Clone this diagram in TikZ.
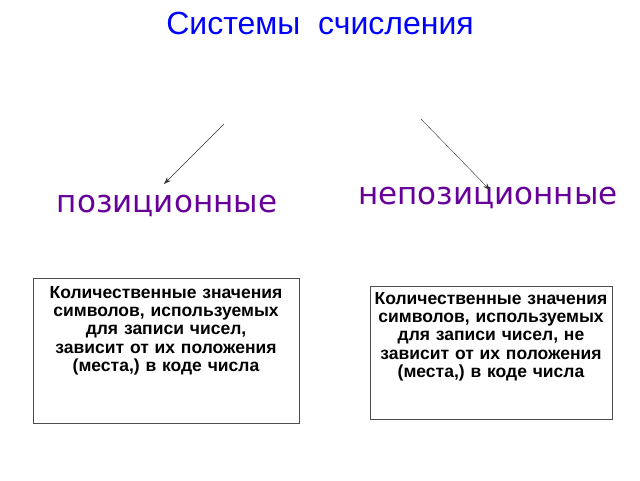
\documentclass[tikz,border=0pt]{standalone}
\usepackage{fontspec}
\usetikzlibrary{arrows.meta}
\setmainfont{Liberation Sans}
\newfontfamily\dejavu{DejaVu Sans}
\begin{document}
\begin{tikzpicture}[x=1pt,y=-1pt,
  boxtext/.style={align=center, font=\bfseries\fontsize{17.5}{18.3}\selectfont, inner sep=0pt},
  kind/.style={text=violet!80!blue, font=\dejavu\fontsize{31}{34}\selectfont},
  conn/.style={draw=black!80, -{Stealth[length=7pt,width=5pt]}, thin}]
\useasboundingbox (0,0) rectangle (640,480);
\node[text=blue, font=\fontsize{32}{36}\selectfont] (title) at (320,23) {Системы\ \ счисления};
\node[kind] (pos) at (167,206) {позиционные};
\node[kind] (npos) at (488,198) {непозиционные};
\coordinate (a1) at (224,124);
\coordinate (a2) at (421,119);
\draw[conn] (a1) -- (164,184);
\draw[conn] (a2) -- (490,190);
\draw[draw=black!70] (33,278) rectangle (299,423);
\node[boxtext, text width=258, anchor=north] (b1) at (166,286) {Количественные значения символов, используемых для записи чисел, зависит от их положения (места,) в коде числа};
\draw[draw=black!70] (370,286) rectangle (612,419);
\node[boxtext, text width=236, anchor=north] (b2) at (491,292) {Количественные значения символов, используемых для записи чисел, не зависит от их положения (места,) в коде числа};
\end{tikzpicture}
\end{document}
